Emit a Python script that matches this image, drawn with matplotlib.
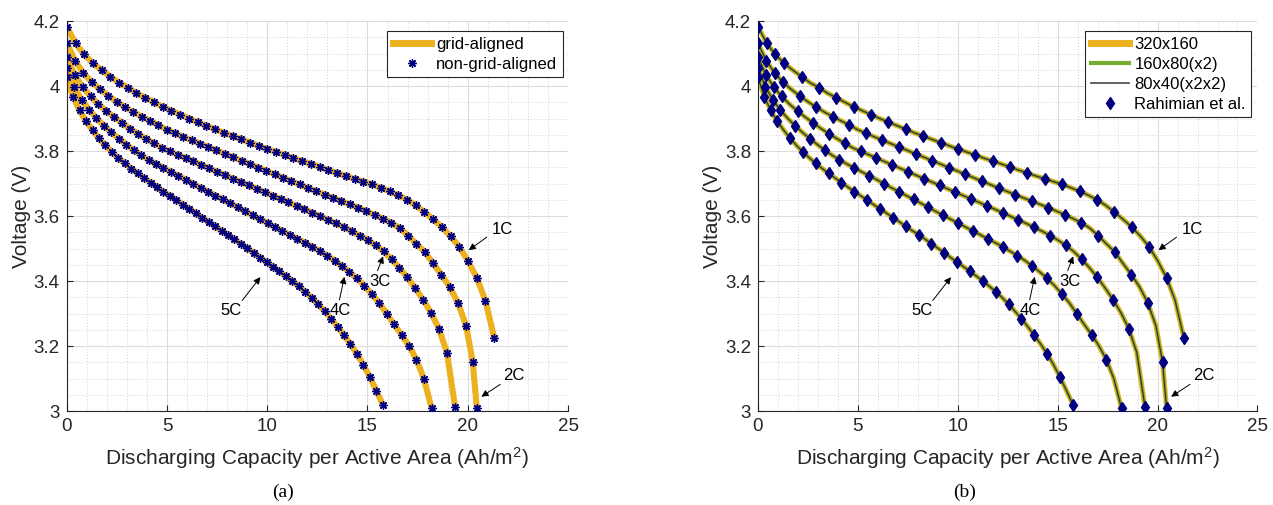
import matplotlib
matplotlib.use("Agg")
import matplotlib.pyplot as plt
from matplotlib.ticker import MultipleLocator, FuncFormatter

plt.rcParams['font.family'] = ['Liberation Sans', 'DejaVu Sans']
plt.rcParams['mathtext.default'] = 'regular'

# discharge curves, one star per simulation output (Ah/m^2, V)
cap_1c = [0, 0.44, 0.87, 1.31, 1.74, 2.18, 2.61, 3.05, 3.48, 3.92, 4.35, 4.79, 5.22, 5.66, 6.09,
          6.53, 6.96, 7.40, 7.83, 8.27, 8.70, 9.14, 9.57, 10.01, 10.44, 10.88, 11.31, 11.75, 12.18,
          12.62, 13.05, 13.49, 13.92, 14.36, 14.79, 15.23, 15.66, 16.10, 16.53, 16.97, 17.40, 17.84,
          18.27, 18.71, 19.14, 19.58, 20.01, 20.45, 20.88, 21.32]
volt_1c = [4.183, 4.131, 4.097, 4.070, 4.049, 4.029, 4.010, 3.995, 3.978, 3.964, 3.950, 3.936,
           3.924, 3.912, 3.900, 3.889, 3.878, 3.867, 3.856, 3.846, 3.836, 3.826, 3.816, 3.806, 3.797,
           3.788, 3.778, 3.769, 3.760, 3.751, 3.741, 3.732, 3.723, 3.714, 3.706, 3.697, 3.687, 3.676,
           3.664, 3.650, 3.633, 3.612, 3.590, 3.566, 3.538, 3.505, 3.462, 3.410, 3.340, 3.225]

cap_2c = [0, 0.42, 0.83, 1.25, 1.66, 2.08, 2.49, 2.91, 3.32, 3.74, 4.15, 4.57, 4.98, 5.40, 5.81,
          6.23, 6.64, 7.06, 7.47, 7.89, 8.30, 8.72, 9.13, 9.55, 9.96, 10.38, 10.79, 11.21, 11.62,
          12.04, 12.45, 12.87, 13.28, 13.70, 14.11, 14.53, 14.94, 15.36, 15.77, 16.19, 16.60, 17.02,
          17.43, 17.85, 18.26, 18.68, 19.09, 19.51, 19.92, 20.25, 20.45]
volt_2c = [4.131, 4.078, 4.040, 4.012, 3.990, 3.970, 3.952, 3.935, 3.920, 3.906, 3.893, 3.880,
           3.866, 3.855, 3.844, 3.833, 3.823, 3.812, 3.802, 3.791, 3.781, 3.770, 3.760, 3.749, 3.739,
           3.728, 3.718, 3.707, 3.697, 3.686, 3.676, 3.666, 3.656, 3.646, 3.636, 3.626, 3.615, 3.604,
           3.592, 3.579, 3.563, 3.540, 3.515, 3.490, 3.455, 3.420, 3.383, 3.333, 3.262, 3.150, 3.010]

cap_3c = [0, 0.40, 0.79, 1.19, 1.58, 1.98, 2.37, 2.77, 3.16, 3.56, 3.95, 4.35, 4.74, 5.14, 5.53,
          5.93, 6.32, 6.72, 7.11, 7.51, 7.90, 8.30, 8.69, 9.09, 9.48, 9.88, 10.27, 10.67, 11.06,
          11.46, 11.85, 12.25, 12.64, 13.04, 13.43, 13.83, 14.22, 14.62, 15.01, 15.41, 15.80, 16.20,
          16.59, 16.99, 17.38, 17.78, 18.17, 18.57, 18.96, 19.37]
volt_3c = [4.090, 4.034, 3.997, 3.968, 3.944, 3.923, 3.904, 3.886, 3.869, 3.853, 3.838, 3.824,
           3.810, 3.799, 3.789, 3.778, 3.768, 3.757, 3.747, 3.736, 3.726, 3.715, 3.705, 3.694, 3.684,
           3.673, 3.663, 3.652, 3.642, 3.631, 3.621, 3.610, 3.599, 3.588, 3.577, 3.565, 3.553, 3.540,
           3.526, 3.510, 3.491, 3.467, 3.441, 3.411, 3.378, 3.342, 3.302, 3.252, 3.180, 3.012]

cap_4c = [0, 0.37, 0.74, 1.11, 1.48, 1.86, 2.23, 2.60, 2.97, 3.34, 3.71, 4.08, 4.45, 4.82, 5.19,
          5.57, 5.94, 6.31, 6.68, 7.05, 7.42, 7.79, 8.16, 8.53, 8.90, 9.28, 9.65, 10.02, 10.39,
          10.76, 11.13, 11.50, 11.87, 12.24, 12.61, 12.99, 13.36, 13.73, 14.10, 14.47, 14.84, 15.21,
          15.58, 15.95, 16.32, 16.70, 17.07, 17.44, 17.81, 18.20]
volt_4c = [4.056, 3.998, 3.958, 3.927, 3.901, 3.878, 3.857, 3.838, 3.820, 3.803, 3.787, 3.773,
           3.760, 3.748, 3.736, 3.724, 3.712, 3.699, 3.687, 3.675, 3.663, 3.651, 3.639, 3.627, 3.614,
           3.602, 3.590, 3.578, 3.566, 3.554, 3.542, 3.530, 3.518, 3.506, 3.492, 3.478, 3.463, 3.446,
           3.428, 3.408, 3.386, 3.360, 3.333, 3.300, 3.267, 3.235, 3.200, 3.158, 3.100, 3.008]

cap_5c = [0, 0.32, 0.64, 0.96, 1.29, 1.61, 1.93, 2.25, 2.57, 2.89, 3.22, 3.54, 3.86, 4.18, 4.50,
          4.82, 5.15, 5.47, 5.79, 6.11, 6.43, 6.75, 7.08, 7.40, 7.72, 8.04, 8.36, 8.68, 9.00, 9.33,
          9.65, 9.97, 10.29, 10.61, 10.93, 11.26, 11.58, 11.90, 12.22, 12.54, 12.86, 13.19, 13.51,
          13.83, 14.15, 14.47, 14.79, 15.12, 15.44, 15.76]
volt_5c = [4.027, 3.967, 3.925, 3.892, 3.864, 3.839, 3.817, 3.797, 3.779, 3.762, 3.746, 3.731,
           3.717, 3.703, 3.689, 3.675, 3.662, 3.649, 3.635, 3.622, 3.609, 3.595, 3.582, 3.568, 3.555,
           3.543, 3.529, 3.515, 3.501, 3.487, 3.472, 3.458, 3.444, 3.430, 3.415, 3.400, 3.384, 3.367,
           3.349, 3.329, 3.307, 3.284, 3.259, 3.233, 3.206, 3.176, 3.143, 3.104, 3.063, 3.020]

rates = ['1C', '2C', '3C', '4C', '5C']
capacities = [cap_1c, cap_2c, cap_3c, cap_4c, cap_5c]
voltages = [volt_1c, volt_2c, volt_3c, volt_4c, volt_5c]

# where each C-rate label sits and where its arrow points
label_pos = [(21.75, 3.56), (22.3, 3.11), (15.6, 3.40), (13.65, 3.31), (8.2, 3.31)]
arrow_tip = [(20.05, 3.495), (20.68, 3.044), (15.78, 3.476), (13.85, 3.413), (9.66, 3.412)]
arrow_tail = [(20.95, 3.535), (21.62, 3.082), (15.5, 3.432), (13.6, 3.342), (8.75, 3.340)]

ORANGE = '#EDB120'
GREEN = '#77AC30'
NAVY = '#000080'
AXC = '#262626'


def style_axes(ax):
    ax.set_xlim(0, 25)
    ax.set_ylim(3, 4.2)
    ax.xaxis.set_major_locator(MultipleLocator(5))
    ax.xaxis.set_minor_locator(MultipleLocator(1))
    ax.yaxis.set_major_locator(MultipleLocator(0.2))
    ax.yaxis.set_minor_locator(MultipleLocator(0.05))
    ax.yaxis.set_major_formatter(FuncFormatter(lambda v, p: '%g' % round(v, 2)))
    ax.grid(which='major', color='#dcdcdc', lw=0.8)
    ax.grid(which='minor', color='#d0d0d0', ls=(0, (1, 2)), lw=0.7)
    ax.set_axisbelow(True)
    for side in ['top', 'right']:
        ax.spines[side].set_visible(False)
    for side in ['left', 'bottom']:
        ax.spines[side].set_color(AXC)
        ax.spines[side].set_linewidth(0.8)
    ax.tick_params(which='major', direction='in', length=4, width=0.8, labelsize=13.5,
                   colors=AXC, pad=5)
    ax.tick_params(which='minor', length=0)
    ax.set_xlabel('Discharging Capacity per Active Area (Ah/m$^2$)', fontsize=15, color=AXC,
                  labelpad=7)
    ax.set_ylabel('Voltage (V)', fontsize=15, color=AXC, labelpad=2)


def add_rate_labels(ax):
    for name, txt, tip, tail in zip(rates, label_pos, arrow_tip, arrow_tail):
        ax.annotate('', xy=tip, xytext=tail,
                    arrowprops=dict(arrowstyle='-|>', color='k', lw=0.7, mutation_scale=10,
                                    shrinkA=0, shrinkB=0))
        ax.text(txt[0], txt[1], name, fontsize=12, ha='center', va='center', color='k')


fig = plt.figure(figsize=(12.73, 5.05), dpi=100)
ax_a = fig.add_axes([0.0524, 0.1861, 0.3938, 0.7723])
ax_b = fig.add_axes([0.5954, 0.1861, 0.3924, 0.7723])

# (a) grid-aligned vs non-grid-aligned
for cap, volt in zip(capacities, voltages):
    ax_a.plot(cap, volt, color=ORANGE, lw=4.4, solid_capstyle='butt', zorder=2)
    ax_a.plot(cap, volt, ls='none', marker=(8, 2, 0), ms=6, mec=NAVY, mew=1.0, zorder=3)
style_axes(ax_a)
add_rate_labels(ax_a)
h1, = ax_a.plot([], [], color=ORANGE, lw=5)
h2, = ax_a.plot([], [], ls='none', marker=(8, 2, 0), ms=6, mec=NAVY, mew=1.0)
leg = ax_a.legend([h1, h2], ['grid-aligned', 'non-grid-aligned'], loc='upper right',
                  bbox_to_anchor=(0.99, 0.975), fontsize=12, fancybox=False, framealpha=1,
                  edgecolor=AXC, handlelength=2.3, borderpad=0.35, labelspacing=0.3,
                  handletextpad=0.3, borderaxespad=0)
leg.get_frame().set_linewidth(0.8)

# (b) refinement levels vs Rahimian et al.
for cap, volt in zip(capacities, voltages):
    n = len(cap)
    marks = list(range(0, 4)) + list(range(5, n - 1, 2)) + [n - 1]
    ax_b.plot(cap, volt, color=ORANGE, lw=3.6, solid_capstyle='butt', zorder=2)
    ax_b.plot(cap, volt, color=GREEN, lw=2.0, solid_capstyle='butt', zorder=3)
    ax_b.plot(cap, volt, color='#2e2e2e', lw=0.8, zorder=4)
    ax_b.plot(cap, volt, ls='none', marker='d', markevery=marks, ms=6.5, color=NAVY, zorder=5)
style_axes(ax_b)
add_rate_labels(ax_b)
g1, = ax_b.plot([], [], color=ORANGE, lw=5)
g2, = ax_b.plot([], [], color=GREEN, lw=3)
g3, = ax_b.plot([], [], color='#555555', lw=1.3)
g4, = ax_b.plot([], [], ls='none', marker='d', ms=6.5, color=NAVY)
leg = ax_b.legend([g1, g2, g3, g4], ['320x160', '160x80(x2)', '80x40(x2x2)', 'Rahimian et al.'],
                  loc='upper right', bbox_to_anchor=(0.988, 0.975), fontsize=12, fancybox=False,
                  framealpha=1, edgecolor=AXC, handlelength=2.3, borderpad=0.35,
                  labelspacing=0.3, handletextpad=0.3, borderaxespad=0)
leg.get_frame().set_linewidth(0.8)

fig.text(0.2223, 0.026, '(a)', family='Liberation Serif', fontsize=14, ha='center', va='center')
fig.text(0.758, 0.026, '(b)', family='Liberation Serif', fontsize=14, ha='center', va='center')

fig.savefig('out.png', dpi=100, facecolor='white')
